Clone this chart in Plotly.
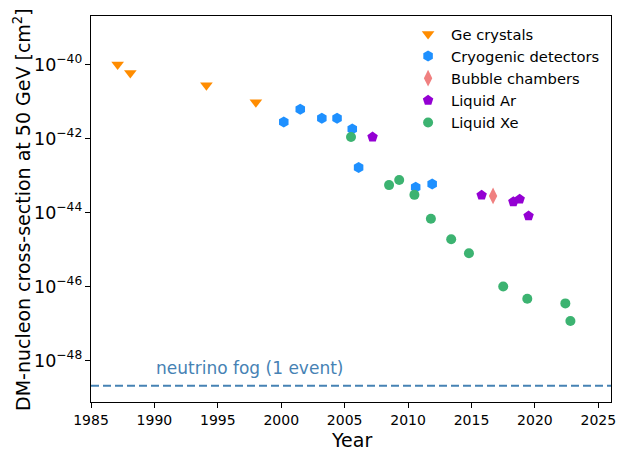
import plotly.graph_objects as go

# ---- data ----
ge_years = [1987.1, 1988.1, 1994.1, 1998.0]
ge_xs = [1.0e-40, 5.9e-41, 2.75e-41, 9.5e-42]

cryo_years = [2000.2, 2001.5, 2003.2, 2004.4, 2005.6, 2006.1, 2010.6, 2011.9]
cryo_xs = [2.8e-42, 6.2e-42, 3.5e-42, 3.5e-42, 1.8e-42, 1.65e-43, 4.8e-44, 5.9e-44]

bubble_years = [2016.7]
bubble_xs = [2.8e-44]

ar_years = [2007.2, 2015.8, 2018.3, 2018.8, 2019.5]
ar_xs = [1.1e-42, 2.95e-44, 1.95e-44, 2.3e-44, 8.1e-45]

xe_years = [2005.5, 2008.5, 2009.3, 2010.5, 2011.8, 2013.4, 2014.8, 2017.5, 2019.4, 2022.4, 2022.8]
xe_xs = [1.1e-42, 5.5e-44, 7.6e-44, 3.0e-44, 6.8e-45, 1.9e-45, 7.9e-46, 1.0e-46, 4.7e-47, 3.5e-47, 1.17e-47]

nu_fog = 2.1e-49
nu_label = "neutrino fog (1 event)"

x_ticks = list(range(1985, 2030, 5))

x_title = "Year"
y_title = "DM-nucleon cross-section at 50 GeV [cm<sup>2</sup>]"

FONT = "DejaVu Sans"

fig = go.Figure()

series = [
    ("Ge crystals", ge_years, ge_xs, "triangle-down", "#FF8C00", 11),
    ("Cryogenic detectors", cryo_years, cryo_xs, "hexagon", "#1E90FF", 11),
    ("Bubble chambers", bubble_years, bubble_xs, "diamond-tall", "#F08080", 12),
    ("Liquid Ar", ar_years, ar_xs, "pentagon", "#9400D3", 11),
    ("Liquid Xe", xe_years, xe_xs, "circle", "#3CB371", 10),
]
for name, xs, ys, sym, col, sz in series:
    fig.add_trace(go.Scatter(
        x=xs, y=ys, mode="markers", name=name,
        marker=dict(symbol=sym, color=col, size=sz, line=dict(width=0)),
    ))

fig.add_shape(type="line", xref="paper", x0=0, x1=1, yref="y", y0=nu_fog, y1=nu_fog,
              line=dict(color="#4682B4", width=2, dash="8px,4px"))

fig.add_annotation(x=1990, y=-48.2, xref="x", yref="y", text=nu_label,
                   showarrow=False, xanchor="left", yanchor="middle",
                   font=dict(family=FONT, size=17, color="#4682B4"))

# axis titles as annotations for exact placement
fig.add_annotation(x=0.5, y=-0.098, xref="paper", yref="paper", text=x_title,
                   showarrow=False, xanchor="center", yanchor="middle",
                   font=dict(family=FONT, size=19, color="black"))
fig.add_annotation(x=-0.1327, y=0.5, xref="paper", yref="paper", text=y_title,
                   textangle=-90, showarrow=False, xanchor="center", yanchor="middle",
                   font=dict(family=FONT, size=19, color="black"))

fig.update_layout(
    width=623, height=451,
    margin=dict(l=91, r=12, t=16, b=49, autoexpand=False),
    paper_bgcolor="white", plot_bgcolor="white",
    font=dict(family=FONT, size=14, color="black"),
    showlegend=True,
    legend=dict(x=0.604, y=0.995, xanchor="left", yanchor="top", itemwidth=36,
                bgcolor="rgba(0,0,0,0)", font=dict(family=FONT, size=14.7)),
)
fig.update_xaxes(
    range=[1985, 2026], tickvals=x_ticks, ticks="outside", ticklen=5, tickwidth=1,
    tickcolor="black", showline=True, linecolor="black", linewidth=1, mirror=True,
    showgrid=False, zeroline=False, automargin=False,
    tickfont=dict(family=FONT, size=14),
)
fig.update_yaxes(
    type="log", range=[-49.12, -38.69], dtick=2, exponentformat="power",
    ticks="outside", ticklen=5, tickwidth=1, tickcolor="black",
    showline=True, linecolor="black", linewidth=1, mirror=True,
    showgrid=False, zeroline=False, automargin=False,
    tickfont=dict(family=FONT, size=14),
)

fig.write_html("out.html")
